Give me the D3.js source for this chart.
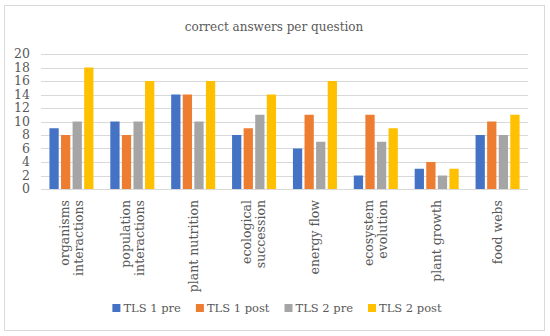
<!DOCTYPE html>
<html>
<head>
<meta charset="utf-8">
<script src="https://cdn.jsdelivr.net/npm/d3@7"></script>
<style>
  body { margin: 0; background: #fff; }
</style>
</head>
<body>
<script>
// categories (label lines) and series values
const categories = [
  ['organisms', 'interactions'],
  ['population', 'interactions'],
  ['plant nutrition'],
  ['ecological', 'succession'],
  ['energy flow'],
  ['ecosystem', 'evolution'],
  ['plant growth'],
  ['food webs']
]
const seriesNames = ['TLS 1 pre', 'TLS 1 post', 'TLS 2 pre', 'TLS 2 post']
const tls1Pre = [9, 10, 14, 8, 6, 2, 3, 8]
const tls1Post = [8, 8, 14, 9, 11, 11, 4, 10]
const tls2Pre = [10, 10, 10, 11, 7, 7, 2, 8]
const tls2Post = [18, 16, 16, 14, 16, 9, 3, 11]
const colors = ['#4472C4', '#ED7D31', '#A5A5A5', '#FFC000']
const yTicks = [0, 2, 4, 6, 8, 10, 12, 14, 16, 18, 20]

const series = [tls1Pre, tls1Post, tls2Pre, tls2Post]

const width = 550, height = 336
const margin = {top: 54, right: 22, bottom: 147, left: 41}

const svg = d3.select('body').append('svg')
  .attr('width', width)
  .attr('height', height)
  .attr('font-family', "'DejaVu Serif', serif")
  .attr('fill', '#595959')

// outer frame
svg.append('rect')
  .attr('x', 4.5).attr('y', 5.5)
  .attr('width', 540).attr('height', 325)
  .attr('fill', '#fff')
  .attr('stroke', '#d9d9d9')

svg.append('text')
  .attr('x', 274).attr('y', 31)
  .attr('text-anchor', 'middle')
  .attr('font-size', 12)
  .text('correct answers per question')

const x = d3.scaleBand()
  .domain(d3.range(categories.length))
  .range([margin.left, width - margin.right])

const y = d3.scaleLinear()
  .domain([0, 20])
  .range([height - margin.bottom, margin.top])

const xSub = d3.scaleBand()
  .domain(d3.range(series.length))
  .range([0, 44])
  .paddingInner(0.2)

// gridlines
svg.append('g')
  .selectAll('line')
  .data(yTicks)
  .enter().append('line')
  .attr('x1', margin.left).attr('x2', width - margin.right)
  .attr('y1', d => Math.round(y(d)) + 0.5)
  .attr('y2', d => Math.round(y(d)) + 0.5)
  .attr('stroke', '#d9d9d9')
  .attr('stroke-width', 1)

// y tick labels
svg.append('g')
  .selectAll('text')
  .data(yTicks)
  .enter().append('text')
  .attr('x', 30)
  .attr('y', d => y(d))
  .attr('dy', '0.35em')
  .attr('text-anchor', 'end')
  .attr('font-size', 12.5)
  .text(d => d)

// bars
const groups = svg.append('g')
  .selectAll('g')
  .data(categories)
  .enter().append('g')
  .attr('transform', (d, i) => 'translate(' + (x(i) + x.bandwidth() / 2 - 22) + ',0)')

groups.selectAll('rect')
  .data((d, i) => series.map((s, j) => ({j: j, v: s[i]})))
  .enter().append('rect')
  .attr('x', d => xSub(d.j))
  .attr('width', xSub.bandwidth())
  .attr('y', d => y(d.v))
  .attr('height', d => y(0) - y(d.v))
  .attr('fill', d => colors[d.j])

// category labels, rotated
const labels = svg.append('g')
  .selectAll('text')
  .data(categories)
  .enter().append('text')
  .attr('transform', (d, i) => 'translate(' + (x(i) + x.bandwidth() / 2) + ',200) rotate(-90)')
  .attr('text-anchor', 'end')
  .attr('font-size', 12.5)

labels.selectAll('tspan')
  .data(d => d.map((t, k) => ({t: t, off: (k - (d.length - 1) / 2) * 14})))
  .enter().append('tspan')
  .attr('x', 0)
  .attr('y', d => d.off)
  .attr('dy', '0.35em')
  .text(d => d.t)

// legend, laid out from measured text widths
const legend = svg.append('g')
const items = legend.selectAll('g')
  .data(seriesNames)
  .enter().append('g')

items.append('rect')
  .attr('x', 0).attr('y', -4)
  .attr('width', 8).attr('height', 8)
  .attr('fill', (d, i) => colors[i])

items.append('text')
  .attr('x', 11)
  .attr('dy', '0.35em')
  .attr('font-size', 11.5)
  .text(d => d)

let pos = 0
items.each(function () {
  d3.select(this).attr('transform', 'translate(' + pos + ',0)')
  pos += 11 + d3.select(this).select('text').node().getComputedTextLength() + 15
})
const total = pos - 15
legend.attr('transform', 'translate(' + (277 - total / 2) + ',308)')
</script>
</body>
</html>
